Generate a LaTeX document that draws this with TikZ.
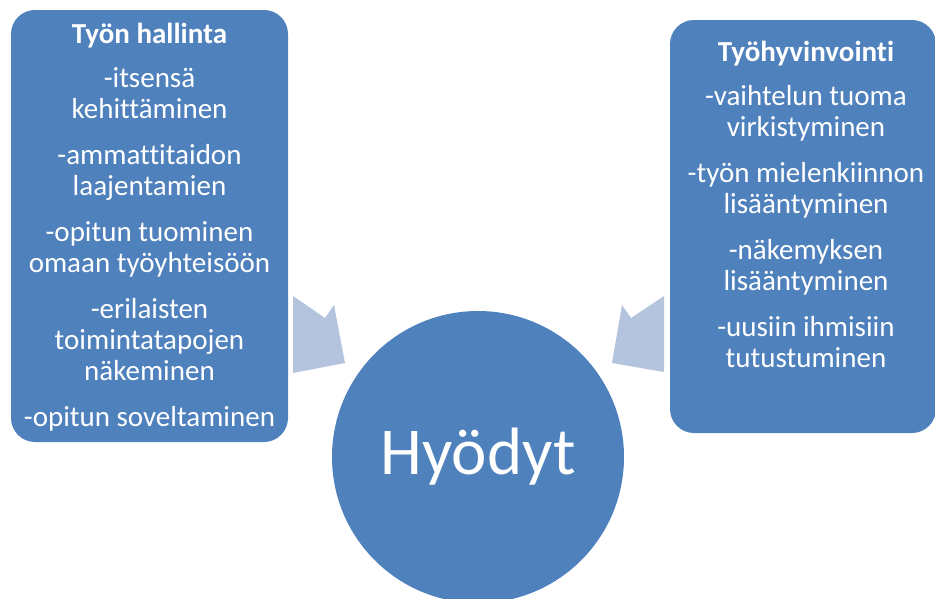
\documentclass[tikz,border=0pt]{standalone}
\usepackage{fontspec}
\setmainfont{Carlito}[Ligatures=NoCommon]
\usetikzlibrary{positioning}
\definecolor{boxblue}{HTML}{4F81BD}
\definecolor{arrowblue}{HTML}{B4C3DE}

\begin{document}
\begin{tikzpicture}[x=1pt, y=-1pt,
    panel/.style={fill=boxblue, rounded corners=24pt, inner sep=0pt},
    paneltext/.style={text=white, align=center, inner sep=0pt, anchor=north, font=\fontsize{29}{31}\selectfont},
    hub/.style={circle, fill=boxblue, text=white, inner sep=0pt, minimum size=292pt, font=\fontsize{67}{70}\selectfont}]
            \clip (0,0) rectangle (935,598);
            \fill[arrowblue] (293,296) -- (325,318) -- (334,305) -- (345,363) -- (293,373) -- cycle;
            \fill[arrowblue] (664,296) -- (631,318) -- (622,305) -- (612,363) -- (664,372) -- cycle;
            \node[panel, minimum width=277pt, minimum height=432pt] (hallinta) at (149.5,226) {};
            \node[panel, minimum width=266pt, minimum height=413pt] (hyvinvointi) at (803,226.5) {};
            \node[hub] (hyodyt) at (478,457) {Hyödyt};
            \node[paneltext] (hallintateksti) at (149.5,23) {
              \textbf{Työn hallinta}\\[13pt]
              -itsensä\\ kehittäminen\\[15pt]
              -ammattitaidon\\ laajentamien\\[15pt]
              -opitun tuominen\\ omaan työyhteisöön\\[15pt]
              -erilaisten\\ toimintatapojen\\ näkeminen\\[15pt]
              -opitun soveltaminen
            };
            \node[paneltext] (hyvinvointiteksti) at (806,41) {
              \textbf{Työhyvinvointi}\\[13pt]
              -vaihtelun tuoma\\ virkistyminen\\[15pt]
              -työn mielenkiinnon\\ lisääntyminen\\[15pt]
              -näkemyksen\\ lisääntyminen\\[15pt]
              -uusiin ihmisiin\\ tutustuminen
            };
          \end{tikzpicture}
\end{document}
